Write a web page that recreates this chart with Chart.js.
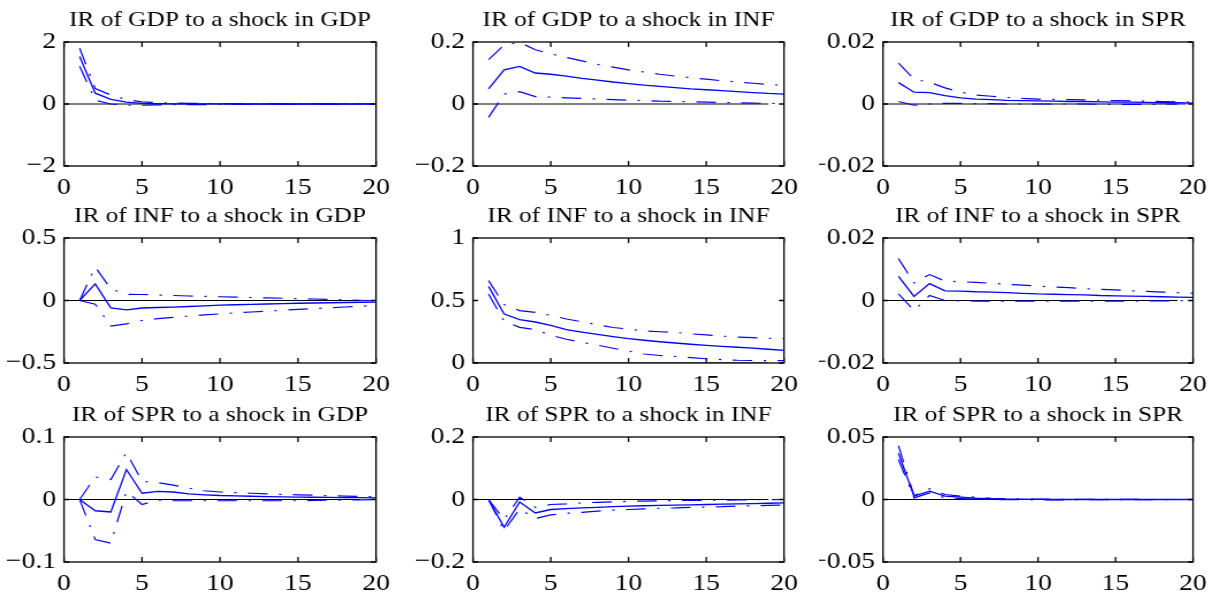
<!DOCTYPE html>
<html lang="en">
  <head>
    <meta charset="UTF-8" />
    <title>Impulse responses</title>
    <script src="https://cdn.jsdelivr.net/npm/chart.js"></script>
    <style>
      body {
        margin: 0;
        background: #fff;
        width: 1215px;
        height: 599px;
        position: relative;
        overflow: hidden;
      }
      canvas {
        position: absolute;
        transform-origin: 0 0;
      }
    </style>
  </head>
  <body>
    <script>
      // horizons and tick labels
      const horizons = [1, 2, 3, 4, 5, 6, 7, 8, 9, 10, 11, 12, 13, 14, 15, 16, 17, 18, 19, 20];
      const xTicks = [0, 5, 10, 15, 20];
      const zeroLineX = [0, 19];

      const titles = [
        "IR of GDP to a shock in GDP", "IR of GDP to a shock in INF", "IR of GDP to a shock in SPR",
        "IR of INF to a shock in GDP", "IR of INF to a shock in INF", "IR of INF to a shock in SPR",
        "IR of SPR to a shock in GDP", "IR of SPR to a shock in INF", "IR of SPR to a shock in SPR",
      ];
      const yTicks = [
        [-2, 0, 2], [-0.2, 0, 0.2], [-0.02, 0, 0.02],
        [-0.5, 0, 0.5], [0, 0.5, 1], [-0.02, 0, 0.02],
        [-0.1, 0, 0.1], [-0.2, 0, 0.2], [-0.05, 0, 0.05],
      ];

      // GDP responses
      const gdpGdpIr = [1.53, 0.35, 0.15, 0.06, 0.02, 0.01, 0.005, 0.003, 0.002, 0.001, 0, 0, 0, 0, 0, 0, 0, 0, 0, 0];
      const gdpGdpUp = [1.8, 0.5, 0.29, 0.14, 0.07, 0.04, 0.03, 0.02, 0.015, 0.01, 0.01, 0.008, 0.006, 0.005, 0.004, 0.003, 0.003, 0.002, 0.002, 0.001];
      const gdpGdpLo = [1.22, 0.12, 0.0, -0.04, -0.04, -0.03, -0.025, -0.02, -0.018, -0.015, -0.012, -0.01, -0.008, -0.007, -0.006, -0.005, -0.004, -0.003, -0.002, -0.002];

      const gdpInfIr = [0.049, 0.11, 0.121, 0.1, 0.096, 0.09, 0.083, 0.077, 0.071, 0.066, 0.061, 0.057, 0.053, 0.049, 0.046, 0.043, 0.04, 0.037, 0.034, 0.032];
      const gdpInfUp = [0.143, 0.19, 0.199, 0.175, 0.162, 0.15, 0.139, 0.128, 0.119, 0.11, 0.103, 0.096, 0.09, 0.085, 0.08, 0.075, 0.071, 0.067, 0.063, 0.06];
      const gdpInfLo = [-0.043, 0.032, 0.04, 0.024, 0.022, 0.02, 0.018, 0.016, 0.014, 0.012, 0.011, 0.009, 0.008, 0.007, 0.006, 0.005, 0.004, 0.003, 0.002, 0.001];

      const gdpSprIr = [0.0069, 0.0038, 0.0037, 0.0027, 0.002, 0.0016, 0.0014, 0.0012, 0.0011, 0.001, 0.0009, 0.0008, 0.0008, 0.0007, 0.0006, 0.0006, 0.0005, 0.0004, 0.0004, 0.0003];
      const gdpSprUp = [0.0132, 0.008, 0.007, 0.0052, 0.0038, 0.0029, 0.0025, 0.0021, 0.0018, 0.0016, 0.0015, 0.0014, 0.0013, 0.0012, 0.0011, 0.001, 0.0009, 0.0008, 0.0007, 0.0006];
      const gdpSprLo = [0.0008, -0.0004, 0.0, 0.0002, 0.0002, 0.0001, 0.0001, 0, 0, 0, 0, 0, 0, -0.0001, -0.0001, -0.0001, -0.0001, -0.0001, 0, 0];

      // INF responses
      const infGdpIr = [0, 0.133, -0.059, -0.075, -0.06, -0.056, -0.053, -0.048, -0.043, -0.037, -0.034, -0.031, -0.028, -0.025, -0.022, -0.02, -0.018, -0.016, -0.014, -0.013];
      const infGdpUp = [0, 0.267, 0.093, 0.05, 0.048, 0.044, 0.04, 0.036, 0.033, 0.03, 0.027, 0.024, 0.021, 0.018, 0.015, 0.012, 0.009, 0.006, 0.002, -0.003];
      const infGdpLo = [0, -0.03, -0.205, -0.187, -0.16, -0.145, -0.135, -0.125, -0.115, -0.107, -0.099, -0.092, -0.085, -0.078, -0.071, -0.065, -0.058, -0.052, -0.046, -0.04];

      const infInfIr = [0.613, 0.392, 0.347, 0.328, 0.301, 0.267, 0.247, 0.229, 0.211, 0.195, 0.182, 0.17, 0.16, 0.15, 0.141, 0.133, 0.126, 0.119, 0.11, 0.101];
      const infInfUp = [0.659, 0.467, 0.419, 0.405, 0.381, 0.352, 0.33, 0.305, 0.284, 0.272, 0.256, 0.25, 0.245, 0.233, 0.225, 0.215, 0.207, 0.203, 0.198, 0.195];
      const infInfLo = [0.552, 0.333, 0.285, 0.267, 0.222, 0.19, 0.165, 0.143, 0.118, 0.095, 0.072, 0.06, 0.052, 0.043, 0.034, 0.027, 0.022, 0.02, 0.019, 0.019];

      const infSprIr = [0.0077, 0.0013, 0.0054, 0.0031, 0.003, 0.0028, 0.0027, 0.0025, 0.0023, 0.0021, 0.002, 0.0019, 0.0018, 0.0016, 0.0015, 0.0014, 0.0013, 0.0012, 0.0011, 0.001];
      const infSprUp = [0.0134, 0.0056, 0.0083, 0.0062, 0.006, 0.0058, 0.0055, 0.0052, 0.0049, 0.0046, 0.0043, 0.0041, 0.0038, 0.0036, 0.0034, 0.0031, 0.0029, 0.0027, 0.0025, 0.0023];
      const infSprLo = [0.0021, -0.0032, 0.0016, 0.0, -0.0001, -0.0002, -0.0002, -0.0002, -0.0002, -0.0002, -0.0002, -0.0002, -0.0002, -0.0002, -0.0002, -0.0002, -0.0001, -0.0001, -0.0001, 0];

      // SPR responses
      const sprGdpIr = [0, -0.018, -0.02, 0.048, 0.01, 0.013, 0.012, 0.009, 0.0075, 0.0064, 0.0058, 0.0052, 0.0047, 0.0043, 0.0039, 0.0036, 0.0033, 0.0031, 0.0029, 0.0027];
      const sprGdpUp = [0, 0.036, 0.032, 0.075, 0.029, 0.027, 0.023, 0.018, 0.014, 0.012, 0.011, 0.01, 0.009, 0.008, 0.0075, 0.007, 0.006, 0.0055, 0.005, 0.0045];
      const sprGdpLo = [0, -0.064, -0.07, 0.013, -0.008, -0.001, -0.002, -0.002, -0.002, -0.002, -0.002, -0.002, -0.002, -0.002, -0.002, -0.0015, -0.001, -0.001, -0.0005, 0];

      const sprInfIr = [0, -0.089, -0.008, -0.043, -0.032, -0.029, -0.027, -0.025, -0.023, -0.021, -0.02, -0.019, -0.018, -0.017, -0.016, -0.015, -0.014, -0.013, -0.012, -0.011];
      const sprInfUp = [0, -0.064, 0.0075, -0.025, -0.016, -0.014, -0.011, -0.009, -0.0075, -0.006, -0.005, -0.004, -0.0035, -0.003, -0.0025, -0.002, -0.0015, -0.001, -0.0005, 0];
      const sprInfLo = [0, -0.1, -0.03, -0.061, -0.049, -0.044, -0.041, -0.037, -0.034, -0.032, -0.03, -0.028, -0.027, -0.025, -0.024, -0.023, -0.021, -0.02, -0.019, -0.018];

      const sprSprIr = [0.037, 0.0027, 0.0067, 0.0027, 0.0019, 0.001, 0.0005, 0.0003, 0.0002, 0.0001, 0, 0, 0, 0, 0, 0, 0, 0, 0, 0];
      const sprSprUp = [0.043, 0.003, 0.0086, 0.004, 0.0027, 0.0019, 0.001, 0.0006, 0.0004, 0.0003, 0.0002, 0.0002, 0.0001, 0.0001, 0.0001, 0.0001, 0, 0, 0, 0];
      const sprSprLo = [0.032, 0.0013, 0.0053, 0.0013, 0.0008, 0.0003, 0, -0.0001, -0.0002, -0.0003, -0.0003, -0.0002, -0.0002, -0.0002, -0.0002, -0.0001, -0.0001, -0.0001, 0, 0];

      const panels = [
        [gdpGdpIr, gdpGdpUp, gdpGdpLo], [gdpInfIr, gdpInfUp, gdpInfLo], [gdpSprIr, gdpSprUp, gdpSprLo],
        [infGdpIr, infGdpUp, infGdpLo], [infInfIr, infInfUp, infInfLo], [infSprIr, infSprUp, infSprLo],
        [sprGdpIr, sprGdpUp, sprGdpLo], [sprInfIr, sprInfUp, sprInfLo], [sprSprIr, sprSprUp, sprSprLo],
      ];

      // plot area geometry (screen px)
      const colLeft = [64, 473, 883];
      const colWidth = [312, 311, 310];
      const rowTop = [42, 238, 437];
      const rowHeight = [124, 125, 125];
      const yAxisW = 64;
      const xAxisH = 36;
      const padRight = 20;
      // the reference text is a bit wider than tall, so canvases are squeezed then stretched back
      const S = 1.15;

      const FONT = "Liberation Serif";
      const BLUE = "#0000ff";

      Chart.defaults.font.family = FONT;
      Chart.defaults.font.size = 23;
      Chart.defaults.color = "#000";

      function fmt(v) {
        const s = String(parseFloat(Math.abs(v).toFixed(4)));
        return v < 0 ? "\u2212" + s : s;
      }

      const framePlugin = {
        id: "frame",
        afterDraw(chart) {
          const { ctx, chartArea: a, scales } = chart;
          ctx.save();
          ctx.strokeStyle = "#000";
          ctx.lineWidth = 1.3;
          ctx.strokeRect(a.left, a.top, a.right - a.left, a.bottom - a.top);
          ctx.beginPath();
          scales.x.ticks.forEach((t) => {
            const px = scales.x.getPixelForValue(t.value);
            ctx.moveTo(px, a.bottom);
            ctx.lineTo(px, a.bottom - 5);
            ctx.moveTo(px, a.top);
            ctx.lineTo(px, a.top + 5);
          });
          scales.y.ticks.forEach((t) => {
            const py = scales.y.getPixelForValue(t.value);
            ctx.moveTo(a.left, py);
            ctx.lineTo(a.left + 5 / S, py);
            ctx.moveTo(a.right, py);
            ctx.lineTo(a.right - 5 / S, py);
          });
          ctx.stroke();
          ctx.fillStyle = "#000";
          ctx.font = "22px " + FONT;
          ctx.textAlign = "center";
          ctx.textBaseline = "alphabetic";
          ctx.fillText(chart.options.plugins.frame.title, (a.left + a.right) / 2, a.top - 16);
          ctx.restore();
        },
      };

      function points(ys) {
        return horizons.map((h, i) => ({ x: h, y: ys[i] }));
      }

      panels.forEach((series, k) => {
        const r = Math.floor(k / 3);
        const c = k % 3;
        const canvas = document.createElement("canvas");
        const w = yAxisW + colWidth[c] + padRight;
        const h = rowTop[0] + rowHeight[r] + xAxisH;
        const wi = Math.round(w / S);
        const sx = w / wi;
        canvas.width = wi;
        canvas.height = h;
        canvas.style.left = colLeft[c] - yAxisW + "px";
        canvas.style.top = rowTop[r] - rowTop[0] + "px";
        canvas.style.width = wi + "px";
        canvas.style.height = h + "px";
        canvas.style.transform = "scaleX(" + sx + ")";
        document.body.appendChild(canvas);

        const [ir, up, lo] = series;
        const ticksY = yTicks[k];
        const band = { borderColor: BLUE, borderWidth: 1.2, borderDash: [17, 10, 2, 10], pointRadius: 0, fill: false };

        new Chart(canvas.getContext("2d"), {
          type: "line",
          data: {
            datasets: [
              { data: points(ir), borderColor: BLUE, borderWidth: 1.3, pointRadius: 0, fill: false },
              { data: points(up), ...band },
              { data: points(lo), ...band },
              {
                data: zeroLineX.map((x) => ({ x: x, y: 0 })),
                borderColor: "#000",
                borderWidth: 1.2,
                pointRadius: 0,
                fill: false,
              },
            ],
          },
          options: {
            responsive: false,
            animation: false,
            devicePixelRatio: 1,
            layout: { padding: { top: rowTop[0], right: padRight / sx, left: 0, bottom: 0 } },
            plugins: {
              legend: { display: false },
              tooltip: { enabled: false },
              frame: { title: titles[k] },
            },
            scales: {
              x: {
                type: "linear",
                min: xTicks[0],
                max: xTicks[xTicks.length - 1],
                afterBuildTicks: (s) => {
                  s.ticks = xTicks.map((v) => ({ value: v }));
                },
                afterFit: (s) => {
                  s.height = xAxisH;
                  s.paddingLeft = 0;
                  s.paddingRight = 0;
                },
                grid: { display: false, drawTicks: false },
                border: { display: false },
                ticks: { padding: 7, maxRotation: 0, autoSkip: false, font: { size: 24 }, callback: (v) => fmt(v) },
              },
              y: {
                type: "linear",
                min: ticksY[0],
                max: ticksY[ticksY.length - 1],
                afterBuildTicks: (s) => {
                  s.ticks = ticksY.map((v) => ({ value: v }));
                },
                afterFit: (s) => {
                  s.width = yAxisW / sx;
                  s.paddingTop = 0;
                  s.paddingBottom = 0;
                },
                grid: { display: false, drawTicks: false },
                border: { display: false },
                ticks: { padding: 8 / sx, autoSkip: false, font: { size: 24 }, callback: (v) => fmt(v) },
              },
            },
          },
          plugins: [framePlugin],
        });
      });
    </script>
  </body>
</html>
